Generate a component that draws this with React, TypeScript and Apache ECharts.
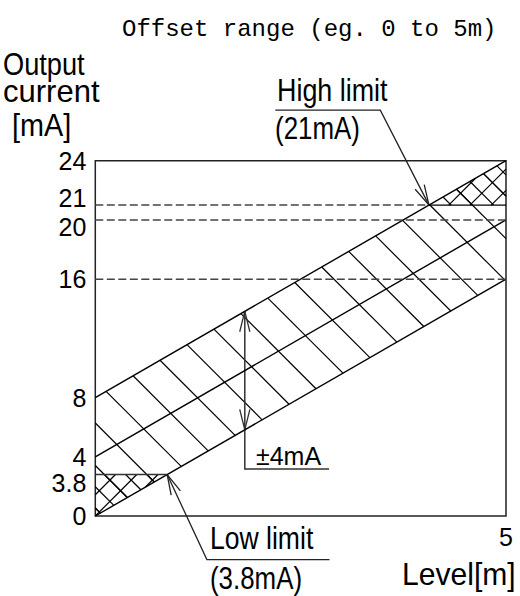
import React, { useEffect, useRef } from 'react';
import * as echarts from 'echarts';

// ---- axis ranges and ticks ----
const X_MIN = 0;
const X_MAX = 5;
const Y_MIN = 0;
const Y_MAX = 24;
const xTickValues = [5];
const xTickLabels = ['5'];
// the 3.8 mA low limit is drawn schematically below the 4 mA level
const yTickValues = [0, 2.8, 4, 8, 16, 20, 21, 24];
const yTickLabels = ['0', '3.8', '4', '8', '16', '20', '21', '24'];

// ---- band lines (level [m] -> current [mA]) ----
const levelX = [0, 5];
const lowerBound = [0, 16];
const centerLine = [4, 20];
const upperBound = [8, 24];
const dashedLevels = [16, 20];
const HIGH_LIMIT = 21;
const LOW_LIMIT_DRAWN = 2.8;
const TOLERANCE_AT_X = 1.82;

// ---- texts ----
const TITLE = 'Offset range (eg. 0 to 5m)';
const Y_NAME = ['Output', 'current', '[mA]'];
const X_NAME = 'Level[m]';
const HIGH_TEXT = ['High limit', '(21mA)'];
const LOW_TEXT = ['Low limit', '(3.8mA)'];
const TOL_TEXT = '±4mA';

const SANS = "'Liberation Sans', Arial, sans-serif";

const valueAt = (line: number[], x: number) =>
  line[0] + ((line[1] - line[0]) * (x - levelX[0])) / (levelX[1] - levelX[0]);
const xAt = (line: number[], y: number) =>
  levelX[0] + ((y - line[0]) * (levelX[1] - levelX[0])) / (line[1] - line[0]);

type Pt = number[];

function hatch(poly: Pt[], dir: number, spacing: number, phase: number, origin: Pt, out: any[], lw: number) {
  const f = (p: Pt) =>
    dir === 1 ? p[1] - origin[1] - (p[0] - origin[0]) : p[1] - origin[1] + (p[0] - origin[0]);
  const vals = poly.map(f);
  const lo = Math.min(...vals);
  const hi = Math.max(...vals);
  const k0 = Math.ceil((lo - phase) / spacing);
  const k1 = Math.floor((hi - phase) / spacing);
  for (let k = k0; k <= k1; k++) {
    const c = phase + k * spacing;
    const pts: Pt[] = [];
    for (let i = 0; i < poly.length; i++) {
      const a = poly[i];
      const b = poly[(i + 1) % poly.length];
      const fa = f(a) - c;
      const fb = f(b) - c;
      if (fa === 0) pts.push(a);
      if (fa * fb < 0) {
        const t = fa / (fa - fb);
        pts.push([a[0] + t * (b[0] - a[0]), a[1] + t * (b[1] - a[1])]);
      }
    }
    if (pts.length >= 2) {
      pts.sort((p, q) => p[0] - q[0]);
      const p = pts[0];
      const q = pts[pts.length - 1];
      if (Math.hypot(q[0] - p[0], q[1] - p[1]) > 1) {
        out.push({
          type: 'line',
          shape: { x1: p[0], y1: p[1], x2: q[0], y2: q[1] },
          style: { stroke: '#000', lineWidth: lw },
        });
      }
    }
  }
}

function arrowHead(tip: Pt, from: Pt, out: any[], color: string) {
  const dx = from[0] - tip[0];
  const dy = from[1] - tip[1];
  const len = Math.hypot(dx, dy) || 1;
  const ux = dx / len;
  const uy = dy / len;
  const L = 21;
  const a = (14 * Math.PI) / 180;
  const rot = (s: number) => [
    tip[0] + L * (ux * Math.cos(s * a) - uy * Math.sin(s * a)),
    tip[1] + L * (ux * Math.sin(s * a) + uy * Math.cos(s * a)),
  ];
  out.push({
    type: 'polyline',
    shape: { points: [rot(1), tip, rot(-1)] },
    style: { stroke: color, lineWidth: 1.3, fill: null },
  });
}

const seg = (x: number[], y: number[]) => x.map((v, i) => [v, y[i]]);

export default function App() {
  const ref = useRef<HTMLDivElement>(null);
  useEffect(() => {
    if (!ref.current) return;
    document.body.style.margin = '0';
    const chart = echarts.init(ref.current, undefined, { renderer: 'svg' });
    const hiX = xAt(upperBound, HIGH_LIMIT);
    const loX = xAt(lowerBound, LOW_LIMIT_DRAWN);

    const lineStyleSolid = { color: '#000', width: 1.4 };
    const lineStyleDash = { color: '#444', width: 1.5, type: [8, 3.5] };
    const mkLine = (data: number[][], ls: any) => ({
      type: 'line',
      data,
      symbol: 'none',
      silent: true,
      clip: false,
      lineStyle: ls,
      z: 3,
    });
    const txt = (text: string, x: number, y: number, scaleX: number, fontSize = 32) => ({
      type: 'text',
      x,
      y,
      scaleX,
      style: { text, fontFamily: SANS, fontSize, fill: '#000', verticalAlign: 'middle', textVerticalAlign: 'middle' },
    });

    const option: any = {
      animation: false,
      title: {
        text: TITLE,
        left: 117,
        top: 12,
        textStyle: { fontFamily: "'Liberation Mono', monospace", fontSize: 24, fontWeight: 'normal', color: '#000' },
      },
      grid: {
        left: 95.3,
        right: 14,
        top: 160.7,
        bottom: 80,
        show: true,
        borderColor: '#222',
        borderWidth: 1.5,
        backgroundColor: 'transparent',
      },
      xAxis: {
        type: 'value',
        min: X_MIN,
        max: X_MAX,
        axisLine: { show: false },
        axisTick: { show: false },
        splitLine: { show: false },
        axisLabel: {
          customValues: xTickValues,
          formatter: (v: number) => xTickLabels[xTickValues.indexOf(v)] ?? '',
          fontFamily: SANS,
          fontSize: 25,
          color: '#000',
          margin: 8,
        },
      },
      yAxis: {
        type: 'value',
        min: Y_MIN,
        max: Y_MAX,
        axisLine: { show: false },
        axisTick: { show: false },
        splitLine: { show: false },
        axisLabel: {
          customValues: yTickValues,
          margin: 9,
          formatter: (v: number) => {
            const lab = yTickLabels[yTickValues.indexOf(v)] ?? '';
            if (v === LOW_LIMIT_DRAWN) return `{low|${lab}}`;
            if (v === HIGH_LIMIT) return `{up|${lab}}`;
            if (v === 20) return `{dn|${lab}}`;
            return `{n|${lab}}`;
          },
          rich: {
            n: { fontFamily: SANS, fontSize: 25, color: '#000' },
            low: { fontFamily: SANS, fontSize: 25, color: '#000', padding: [17, 0, 0, 0] },
            up: { fontFamily: SANS, fontSize: 25, color: '#000', padding: [0, 0, 14, 0] },
            dn: { fontFamily: SANS, fontSize: 25, color: '#000', padding: [14, 0, 0, 0] },
          },
        },
      },
      graphic: [
        txt(Y_NAME[0], 3, 64, 0.85),
        txt(Y_NAME[1], 3, 91, 0.97),
        txt(Y_NAME[2], 12, 124, 0.9),
        txt(HIGH_TEXT[0], 277, 90, 0.84),
        txt(HIGH_TEXT[1], 275, 128, 0.81),
        txt(TOL_TEXT, 256, 456, 1.0, 25),
        txt(LOW_TEXT[0], 210, 538, 0.83),
        txt(LOW_TEXT[1], 210, 578, 0.835, 31),
        txt(X_NAME, 402, 574, 0.94),
      ],
      series: [
        {
          type: 'custom',
          silent: true,
          clip: false,
          z: 2,
          data: [[0, 0]],
          renderItem: (_params: any, api: any) => {
            const P = (x: number, y: number) => api.coord([x, y]);
            const origin = P(levelX[0], lowerBound[0]);
            const children: any[] = [];
            const band = [
              P(levelX[0], lowerBound[0]),
              P(levelX[1], lowerBound[1]),
              P(levelX[1], upperBound[1]),
              P(levelX[0], upperBound[0]),
            ];
            hatch(band, 1, 42.5, -8, origin, children, 1.2);
            const lowTri = [P(levelX[0], lowerBound[0]), P(loX, LOW_LIMIT_DRAWN), P(levelX[0], LOW_LIMIT_DRAWN)];
            hatch(lowTri, 1, 21.25, -8, origin, children, 1.2);
            hatch(lowTri, -1, 21.25, 0, origin, children, 1.2);
            const hiTri = [P(hiX, HIGH_LIMIT), P(levelX[1], upperBound[1]), P(levelX[1], HIGH_LIMIT)];
            hatch(hiTri, 1, 21.25, -8, origin, children, 1.2);
            hatch(hiTri, -1, 21.25, 0, origin, children, 1.2);

            const lc = '#222';
            // high limit leader
            const hTip = P(hiX, HIGH_LIMIT);
            const hElbow = [hTip[0] - 48.7, hTip[1] - 95];
            children.push({
              type: 'polyline',
              shape: { points: [hTip, hElbow, [hElbow[0] - 105, hElbow[1]]] },
              style: { stroke: lc, lineWidth: 1.3, fill: null },
            });
            arrowHead(hTip, hElbow, children, lc);
            // low limit leader
            const lTip = P(loX, LOW_LIMIT_DRAWN);
            const lElbow = [lTip[0] + 39.7, lTip[1] + 85];
            children.push({
              type: 'polyline',
              shape: { points: [lTip, lElbow, [lElbow[0] + 122.6, lElbow[1]]] },
              style: { stroke: lc, lineWidth: 1.3, fill: null },
            });
            arrowHead(lTip, lElbow, children, lc);
            // +-4 mA dimension
            const tTop = P(TOLERANCE_AT_X, valueAt(upperBound, TOLERANCE_AT_X));
            const tBot = P(TOLERANCE_AT_X, valueAt(lowerBound, TOLERANCE_AT_X));
            const tEnd = [tBot[0], tBot[1] + 39.3];
            children.push({
              type: 'polyline',
              shape: { points: [tTop, tEnd, [tEnd[0] + 84.3, tEnd[1]]] },
              style: { stroke: '#333', lineWidth: 1.5, fill: null },
            });
            arrowHead(tTop, [tTop[0], tTop[1] + 10], children, '#333');
            arrowHead(tBot, [tBot[0], tBot[1] - 10], children, '#333');
            return { type: 'group', children };
          },
        },
        mkLine(seg(levelX, lowerBound), lineStyleSolid),
        mkLine(seg(levelX, centerLine), lineStyleSolid),
        mkLine(seg(levelX, upperBound), lineStyleSolid),
        ...dashedLevels.map((lv) => mkLine([[X_MIN, lv], [X_MAX, lv]], lineStyleDash)),
        mkLine([[X_MIN, HIGH_LIMIT], [hiX, HIGH_LIMIT]], lineStyleDash),
        mkLine([[hiX, HIGH_LIMIT], [X_MAX, HIGH_LIMIT]], lineStyleSolid),
        mkLine([[X_MIN, LOW_LIMIT_DRAWN], [loX, LOW_LIMIT_DRAWN]], { color: '#333', width: 1.5 }),
      ],
    };
    chart.setOption(option);
    return () => chart.dispose();
  }, []);
  return (
    <div
      ref={ref}
      style={{ position: 'absolute', left: 0, top: 0, width: 520, height: 596, background: '#fff' }}
    />
  );
}
